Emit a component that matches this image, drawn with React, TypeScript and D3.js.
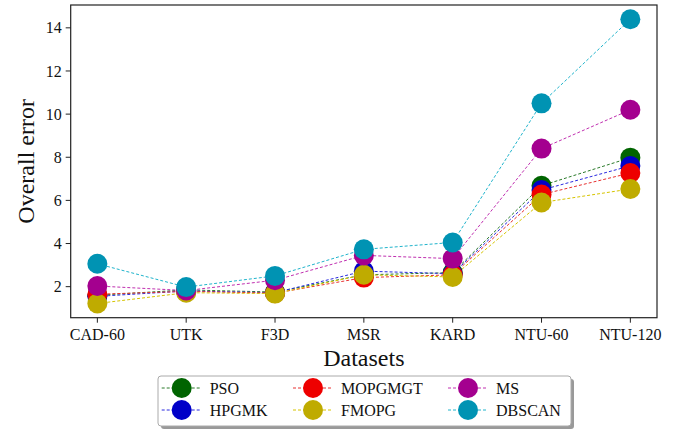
import React from 'react';
import * as d3 from 'd3';

const datasets = ['CAD-60', 'UTK', 'F3D', 'MSR', 'KARD', 'NTU-60', 'NTU-120'];
const methods = ['PSO', 'HPGMK', 'MOPGMGT', 'FMOPG', 'MS', 'DBSCAN'];

const pso = [1.6, 1.85, 1.75, 2.55, 2.65, 6.68, 7.98];
const hpgmk = [1.55, 1.8, 1.72, 2.72, 2.6, 6.48, 7.6];
const mopgmgt = [1.65, 1.78, 1.7, 2.42, 2.55, 6.27, 7.27];
const fmopg = [1.22, 1.72, 1.68, 2.55, 2.45, 5.9, 6.53];
const ms = [2.03, 1.82, 2.3, 3.45, 3.3, 8.4, 10.2];
const dbscan = [3.06, 1.98, 2.5, 3.73, 4.05, 10.5, 14.4];

const yTicks = [2, 4, 6, 8, 10, 12, 14];

const markerColors = ['#006400', '#0000c8', '#ee0000', '#bfab00', '#a4008f', '#0093b3'];
const lineColors = ['#2a7a2a', '#2a2ae0', '#e83030', '#d6c400', '#c030b0', '#20b4cc'];

const W = 675;
const H = 429;
const left = 70.7, right = 657, top = 5, bottom = 317.7;

export default function App() {
  const series = [pso, hpgmk, mopgmgt, fmopg, ms, dbscan];
  const all = series.flat();
  const lo = d3.min(all)!, hi = d3.max(all)!;
  const pad = (hi - lo) * 0.05;

  const x = d3.scalePoint<string>().domain(datasets).range([left, right]).padding(0.3);
  const y = d3.scaleLinear().domain([lo - pad, hi + pad]).range([bottom, top]);
  const line = d3.line<number>().x((_, i) => x(datasets[i])!).y(d => y(d));

  const font = '"Liberation Serif", "Times New Roman", serif';

  const legendX = 158, legendY = 376, legendW = 413, legendH = 50;
  const colX = [181.7, 313, 468];
  const rowY = [388, 410];

  return (
    <svg width={W} height={H} style={{ position: 'absolute', left: 0, top: 0, background: '#fff' }} fontFamily={font}>
      <rect x={0} y={0} width={W} height={H} fill="#fff" />
      {/* series */}
      {series.map((s, k) => (
        <g key={methods[k]}>
          <path d={line(s)!} fill="none" stroke={lineColors[k]} strokeWidth={1} strokeDasharray="3,2" />
        </g>
      ))}
      {series.map((s, k) => (
        <g key={methods[k] + '-m'}>
          {s.map((v, i) => (
            <circle key={i} cx={x(datasets[i])} cy={y(v)} r={10} fill={markerColors[k]} />
          ))}
        </g>
      ))}
      {/* frame */}
      <rect x={left} y={top} width={right - left} height={bottom - top} fill="none" stroke="#222" strokeWidth={1.2} />
      {/* y axis */}
      {yTicks.map(t => (
        <g key={t} transform={`translate(0,${y(t)})`}>
          <line x1={left - 5} x2={left} stroke="#222" strokeWidth={1} />
          <text x={left - 9} dy="0.35em" textAnchor="end" fontSize={16} fill="#111">{t}</text>
        </g>
      ))}
      {/* x axis */}
      {datasets.map(d => (
        <g key={d} transform={`translate(${x(d)},0)`}>
          <line y1={bottom} y2={bottom + 5} stroke="#222" strokeWidth={1} />
          <text y={340} textAnchor="middle" fontSize={16} fill="#111">{d}</text>
        </g>
      ))}
      <text x={(left + right) / 2} y={366} textAnchor="middle" fontSize={24} fill="#111">Datasets</text>
      <text transform={`translate(34,${(top + bottom) / 2}) rotate(-90)`} textAnchor="middle" fontSize={24} fill="#111">Overall error</text>
      {/* legend */}
      <rect x={legendX + 3} y={legendY + 3} width={legendW} height={legendH} rx={3} fill="#999" />
      <rect x={legendX} y={legendY} width={legendW} height={legendH} rx={3} fill="#fff" stroke="#aaa" strokeWidth={1} />
      {methods.map((m, k) => {
        const cx = colX[Math.floor(k / 2)];
        const cy = rowY[k % 2];
        return (
          <g key={m}>
            <line x1={cx - 20} x2={cx + 20} y1={cy} y2={cy} stroke={lineColors[k]} strokeWidth={1} strokeDasharray="3,2" />
            <circle cx={cx} cy={cy} r={10} fill={markerColors[k]} />
            <text x={cx + 28} y={cy} dy="0.35em" fontSize={16} fill="#111">{m}</text>
          </g>
        );
      })}
    </svg>
  );
}
